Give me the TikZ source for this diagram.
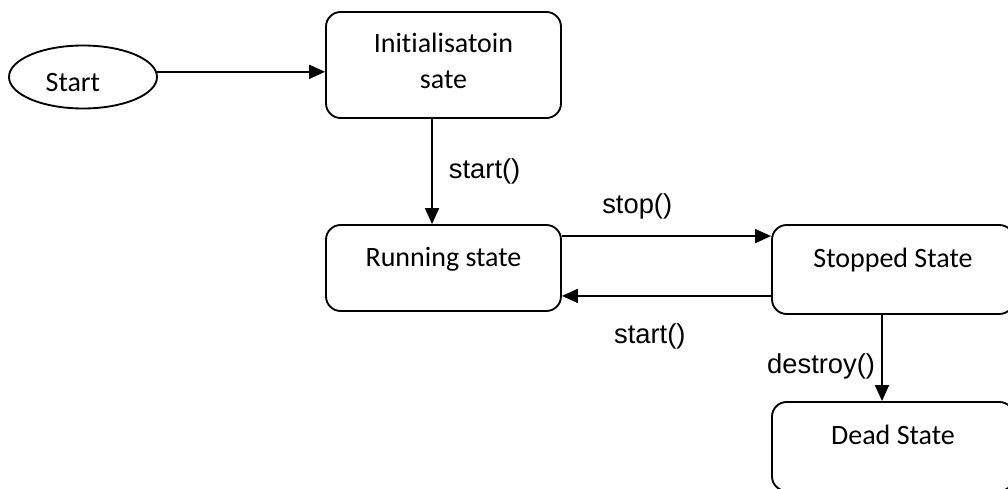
\documentclass[tikz,border=0pt]{standalone}
\usepackage{fontspec}
\setmainfont{Carlito}[Ligatures=NoCommon]
\newfontfamily\labelfont{Liberation Sans}
\usetikzlibrary{arrows.meta}
\usetikzlibrary{shapes.geometric}

\tikzset{
  state/.style={draw, line width=1.4pt, rounded corners=11pt, inner sep=0pt, align=center,
    font=\fontsize{21}{27.75}\selectfont, text height=14pt, text depth=17pt},
  begin/.style={draw, ellipse, line width=1.4pt, inner sep=0pt, minimum width=111pt,
    minimum height=47.25pt, font=\fontsize{21}{27.75}\selectfont, text width=56pt, align=left,
    text height=21pt, text depth=0pt},
  flow/.style={line width=1.4pt, -{Triangle[length=12pt,width=10.5pt]}},
  lbl/.style={font=\labelfont\fontsize{20.5}{24}\selectfont, inner sep=0pt}
}

\begin{document}
\begin{tikzpicture}[x=0.75pt, y=-0.75pt]
\useasboundingbox (0,0) rectangle (1008,489);

\node[begin] (start) at (83,77) {Start};
\node[state, minimum width=176.25pt, minimum height=79.5pt, text height=36pt, text depth=0pt] (init) at (443.5,65) {Initialisatoin\\sate};
\node[state, minimum width=176.25pt, minimum height=64.5pt] (running) at (443.5,268) {Running state};
\node[state, minimum width=181.5pt, minimum height=66.75pt] (stopped) at (893,269.5) {Stopped State};
\node[state, minimum width=181.5pt, minimum height=66.75pt] (dead) at (893,446.5) {Dead State};

\draw[flow] (start.4) -- (start.4 -| init.west);
\draw[flow] ([xshift=-8.6pt]init.south) -- ([xshift=-8.6pt]running.north) node[lbl, midway, right=12pt] {start()};
\draw[flow] ([yshift=-9pt]running.north east) -- ([yshift=-9pt]running.north east -| stopped.west) node[lbl, pos=0.36, above=12pt] {stop()};
\draw[flow] ([yshift=14.25pt]stopped.south west) -- ([yshift=14.25pt]stopped.south west -| running.east) node[lbl, pos=0.58, below=20pt] {start()};
\draw[flow] ([xshift=-8.25pt]stopped.south) -- ([xshift=-8.25pt]dead.north) node[lbl, pos=0.6, left=4.5pt] {destroy()};

\end{tikzpicture}
\end{document}
